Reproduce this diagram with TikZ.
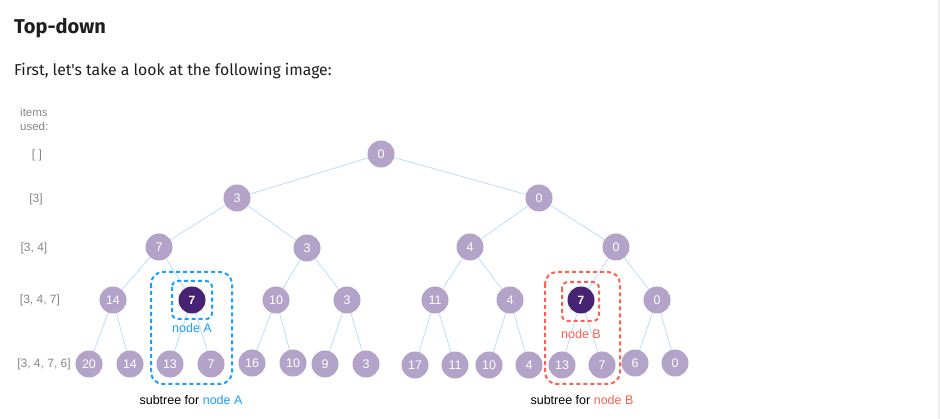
\documentclass[tikz,border=0pt]{standalone}
\usepackage{fontspec}
\setmainfont{Liberation Sans}
\newfontfamily\headfont{Fira Sans}
\definecolor{nodefill}{RGB}{179,163,200}
\definecolor{nodedark}{RGB}{70,35,115}
\definecolor{edgeblue}{RGB}{190,222,250}
\definecolor{selblue}{RGB}{25,160,255}
\definecolor{selred}{RGB}{255,97,80}
\definecolor{labgray}{RGB}{135,135,135}
\definecolor{texthead}{RGB}{30,30,30}
\tikzset{
  tn/.style={circle, fill=nodefill, minimum size=27pt, inner sep=0pt, text=white, font=\fontsize{12.5}{12}\selectfont},
  tnd/.style={tn, fill=nodedark, font=\bfseries\fontsize{12}{12}\selectfont},
  lvl/.style={text=labgray, font=\fontsize{12}{14}\selectfont, inner sep=0pt},
  edge/.style={draw=edgeblue, line width=0.8pt},
  boxA/.style={draw=selblue, line width=2pt, dash pattern=on 4pt off 3pt},
  boxB/.style={draw=selred, line width=2pt, dash pattern=on 4pt off 3pt},
  captext/.style={font=\fontsize{12.5}{14}\selectfont, inner sep=0pt}
}
\begin{document}
\begin{tikzpicture}[x=1pt, y=-1pt]
\useasboundingbox (0,0) rectangle (940,419);
\fill[white] (0,0) rectangle (940,419);
\fill[black!7] (938,0) rectangle (940,419);

% header texts
\node[anchor=base west, inner sep=0pt, text=texthead, font=\headfont\bfseries\fontsize{20}{24}\selectfont] (title) at (14,34) {Top-down};
\node[anchor=base west, inner sep=0pt, text=texthead, font=\headfont\fontsize{15.75}{20}\selectfont] (intro) at (14,76) {First, let's take a look at the following image:};

% level labels
\node[lvl, anchor=west, align=left, font=\fontsize{11.5}{14}\selectfont] (items) at (20,119) {items\\used:};
\node[lvl] (l0) at (37,155) {[ ]};
\node[lvl] (l1) at (36,199) {[3]};
\node[lvl] (l2) at (34,248) {[3, 4]};
\node[lvl] (l3) at (40,300) {[3, 4, 7]};
\node[lvl] (l4) at (44,364) {[3, 4, 7, 6]};

% tree coordinates
\coordinate (r) at (381,154);
\coordinate (a) at (237,198);
\coordinate (b) at (539,198);
\coordinate (aa) at (159,247);
\coordinate (ab) at (307,248);
\coordinate (ba) at (470,247);
\coordinate (bb) at (616,247);
\coordinate (c1) at (113,300);
\coordinate (c2) at (192,300);
\coordinate (c3) at (276,300);
\coordinate (c4) at (347,300);
\coordinate (c5) at (435,300);
\coordinate (c6) at (510,300);
\coordinate (c7) at (581,300);
\coordinate (c8) at (657,300);
\coordinate (d1) at (89,364);
\coordinate (d2) at (130,364);
\coordinate (d3) at (170,364);
\coordinate (d4) at (211,364);
\coordinate (d5) at (252,363);
\coordinate (d6) at (293,363);
\coordinate (d7) at (325,364);
\coordinate (d8) at (366,364);
\coordinate (d9) at (415,365);
\coordinate (d10) at (455,365);
\coordinate (d11) at (489,365);
\coordinate (d12) at (529,365);
\coordinate (d13) at (562,365);
\coordinate (d14) at (602,365);
\coordinate (d15) at (635,363);
\coordinate (d16) at (675,363);

% edges
\draw[edge] (r) -- (a); \draw[edge] (r) -- (b);
\draw[edge] (a) -- (aa); \draw[edge] (a) -- (ab);
\draw[edge] (b) -- (ba); \draw[edge] (b) -- (bb);
\draw[edge] (aa) -- (c1); \draw[edge] (aa) -- (c2);
\draw[edge] (ab) -- (c3); \draw[edge] (ab) -- (c4);
\draw[edge] (ba) -- (c5); \draw[edge] (ba) -- (c6);
\draw[edge] (bb) -- (c7); \draw[edge] (bb) -- (c8);
\draw[edge] (c1) -- (d1); \draw[edge] (c1) -- (d2);
\draw[edge] (c2) -- (d3); \draw[edge] (c2) -- (d4);
\draw[edge] (c3) -- (d5); \draw[edge] (c3) -- (d6);
\draw[edge] (c4) -- (d7); \draw[edge] (c4) -- (d8);
\draw[edge] (c5) -- (d9); \draw[edge] (c5) -- (d10);
\draw[edge] (c6) -- (d11); \draw[edge] (c6) -- (d12);
\draw[edge] (c7) -- (d13); \draw[edge] (c7) -- (d14);
\draw[edge] (c8) -- (d15); \draw[edge] (c8) -- (d16);

% nodes
\node[tn] (nr) at (r) {0};
\node[tn] (na) at (a) {3};
\node[tn] (nb) at (b) {0};
\node[tn] (naa) at (aa) {7};
\node[tn] (nab) at (ab) {3};
\node[tn] (nba) at (ba) {4};
\node[tn] (nbb) at (bb) {0};
\node[tn] (nc1) at (c1) {14};
\node[tnd] (nc2) at (c2) {7};
\node[tn] (nc3) at (c3) {10};
\node[tn] (nc4) at (c4) {3};
\node[tn] (nc5) at (c5) {11};
\node[tn] (nc6) at (c6) {4};
\node[tnd] (nc7) at (c7) {7};
\node[tn] (nc8) at (c8) {0};
\node[tn] (nd1) at (d1) {20};
\node[tn] (nd2) at (d2) {14};
\node[tn] (nd3) at (d3) {13};
\node[tn] (nd4) at (d4) {7};
\node[tn] (nd5) at (d5) {16};
\node[tn] (nd6) at (d6) {10};
\node[tn] (nd7) at (d7) {9};
\node[tn] (nd8) at (d8) {3};
\node[tn] (nd9) at (d9) {17};
\node[tn] (nd10) at (d10) {11};
\node[tn] (nd11) at (d11) {10};
\node[tn] (nd12) at (d12) {4};
\node[tn] (nd13) at (d13) {13};
\node[tn] (nd14) at (d14) {7};
\node[tn] (nd15) at (d15) {6};
\node[tn] (nd16) at (d16) {0};

% selection boxes A
\draw[boxA, rounded corners=12pt] (151,272) rectangle (232,384);
\draw[boxA, rounded corners=6pt] (172,281) rectangle (212,319);
\node[captext, text=selblue] (labA) at (192,328) {node A};
\node[captext, anchor=base] (subA) at (191,405) {subtree for \textcolor{selblue}{node A}};

% selection boxes B
\draw[boxB, rounded corners=12pt] (545,272) rectangle (620,384);
\draw[boxB, rounded corners=6pt] (562,282) rectangle (599,321);
\node[captext, text=selred] (labB) at (581,334) {node B};
\node[captext, anchor=base] (subB) at (582,405) {subtree for \textcolor{selred}{node B}};
\end{tikzpicture}
\end{document}
